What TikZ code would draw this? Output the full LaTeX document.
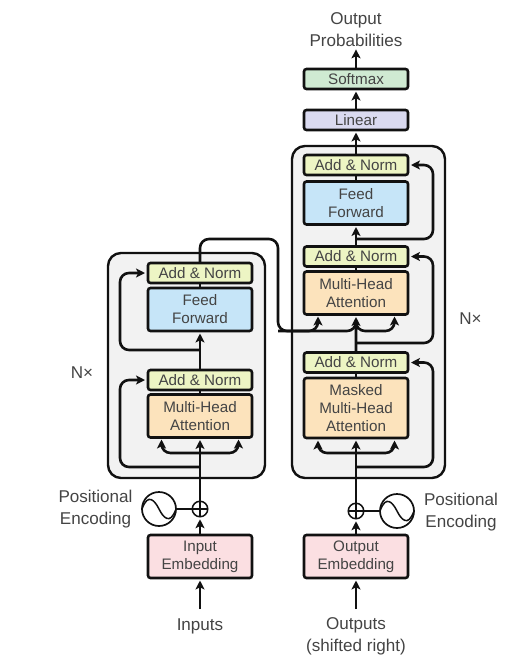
\documentclass[tikz,border=0pt]{standalone}
\usepackage{fontspec}
\setmainfont{Liberation Sans}
\usetikzlibrary{arrows.meta,calc}
\newcommand{\uu}{0.75pt}
\definecolor{ink}{HTML}{111111}
\definecolor{txt}{HTML}{444444}
\definecolor{grayblock}{HTML}{F2F2F2}
\definecolor{addnorm}{HTML}{EDF5C4}
\definecolor{feedf}{HTML}{C6E5F8}
\definecolor{attn}{HTML}{FCE3BC}
\definecolor{embed}{HTML}{FBDFE2}
\definecolor{softm}{HTML}{CFEAD2}
\definecolor{lin}{HTML}{DADAF0}
\tikzset{
  x=0.75pt,y=-0.75pt,
  lab/.style={font=\fontsize{11.4}{13.5}\selectfont,text=txt,align=center,inner sep=0pt},
  outer lab/.style={font=\fontsize{12.8}{16.5}\selectfont,text=txt,align=center,inner sep=0pt},
  block/.style={lab,draw=ink,line width=2.6*\uu,rounded corners=2.5*\uu,minimum width=104*\uu,outer sep=0pt},
  anbox/.style={block,fill=addnorm,minimum height=20*\uu},
  ffbox/.style={block,fill=feedf,minimum height=43*\uu},
  atbox/.style={block,fill=attn,minimum height=43*\uu},
  mabox/.style={block,fill=attn,minimum height=60*\uu},
  embox/.style={block,fill=embed,minimum height=43*\uu},
  smbox/.style={block,fill=softm,minimum height=20*\uu},
  lnbox/.style={block,fill=lin,minimum height=20*\uu},
  stack/.style={draw=ink,fill=grayblock,line width=2.4*\uu,rounded corners=13*\uu,outer sep=0pt},
  conn/.style={draw=ink,line width=2.6*\uu},
  tip/.style={-{Stealth[length=9*\uu,width=9*\uu,inset=2.2*\uu]}},
  arr/.style={conn,tip,shorten >=2.5*\uu},
  rnd/.style={rounded corners=9*\uu},
  plus/.style={circle,draw=ink,fill=white,line width=1.5*\uu,minimum size=15.5*\uu,inner sep=0pt,outer sep=0pt},
  wave/.style={circle,draw=ink,fill=white,line width=1.7*\uu,minimum size=34*\uu,inner sep=0pt,outer sep=0pt},
  thin ink/.style={draw=ink,line width=1.2*\uu},
}
\begin{document}
\begin{tikzpicture}
\useasboundingbox (0,0) rectangle (520,672);
% stacks
\node[stack,minimum width=157*\uu,minimum height=225*\uu] (lstack) at (186.5,365.5) {};
\node[stack,minimum width=153*\uu,minimum height=332*\uu] (rstack) at (368.5,312) {};
% encoder blocks
\node[anbox] (lan2) at (200,273) {Add \& Norm};
\node[ffbox] (lff) at (200,309.5) {Feed\\Forward};
\node[anbox] (lan1) at (200,380) {Add \& Norm};
\node[atbox] (lma) at (200,416) {Multi-Head\\Attention};
\node[embox] (lem) at (200,556.5) {Input\\Embedding};
% decoder blocks
\node[lnbox] (lin) at (356,120) {Linear};
\node[smbox] (soft) at (356,79) {Softmax};
\node[anbox] (ran3) at (356,165) {Add \& Norm};
\node[ffbox] (rff) at (356,203) {Feed\\Forward};
\node[anbox] (ran2) at (356,256.5) {Add \& Norm};
\node[atbox] (rma) at (356,293) {Multi-Head\\Attention};
\node[anbox] (ran1) at (356,362.5) {Add \& Norm};
\node[mabox] (rmm) at (356,408) {Masked\\Multi-Head\\Attention};
\node[embox] (rem) at (356,556.5) {Output\\Embedding};
% texts
\node[outer lab] (inp) at (200,626) {Inputs};
\node[outer lab] (outp) at (356,636.5) {Outputs\\(shifted right)};
\node[outer lab] (prob) at (356,29.5) {Output\\Probabilities};
\node[outer lab] (lpe) at (95.5,509) {Positional\\Encoding};
\node[outer lab] (rpe) at (461,512) {Positional\\Encoding};
\node[outer lab] (lnx) at (82,373) {N×};
\node[outer lab] (rnx) at (470.5,318.5) {N×};
% positional encoding symbols
\node[plus] (lplus) at (200,509) {};
\node[plus] (rplus) at (356,511) {};
\node[wave] (lsin) at (159,509) {};
\node[wave] (rsin) at (397,511) {};
\foreach \p in {lplus,rplus}{
  \draw[thin ink] (\p.north) -- (\p.south);
  \draw[thin ink] (\p.west) -- (\p.east);
}
\foreach \p in {lsin,rsin}{
  \draw[draw=ink,line width=1.5*\uu] (\p.west) .. controls ($(\p.center)+(-11,-17)$) and ($(\p.center)+(-4,-8)$) .. (\p.center)
     .. controls ($(\p.center)+(4,8)$) and ($(\p.center)+(11,17)$) .. (\p.east);
}
\draw[conn] (lsin) -- (lplus);
\draw[conn] (rplus) -- (rsin);
% named junctions
\coordinate (inpfoot) at (200,609);
\coordinate (outfoot) at (356,609);
\coordinate (lres1) at (200,467);
\coordinate (lres1x) at (120,467);
\coordinate (lbr) at (200,453);
\coordinate (lbrl) at (161.5,437);
\coordinate (lbrr) at (238.5,437);
\coordinate (lres2) at (200,350);
\coordinate (lres2x) at (120,350);
\coordinate (ltop) at (200,239);
\coordinate (lcrossx) at (278,239);
\coordinate (lcross) at (278,331);
\coordinate (rqk) at (318,314);
\coordinate (rqkb) at (318,331);
\coordinate (rv) at (394.5,314);
\coordinate (rbr) at (356,453);
\coordinate (rbrl) at (318,438);
\coordinate (rbrr) at (394.5,438);
\coordinate (rres1) at (356,467);
\coordinate (rresx) at (433,467);
\coordinate (rup) at (356,331);
\coordinate (rres2) at (356,343);
\coordinate (rres2x) at (433,343);
\coordinate (rres3) at (356,239);
\coordinate (rres3x) at (433,239);
% encoder connectors
\draw[arr] (inpfoot) -- (lem.south);
\draw[arr] (lem.north) -- (lplus.south);
\draw[arr] (lplus.north) -- (lma.south);
\draw[conn,rnd,tip,shorten >=3*\uu] (lres1) -- (lres1x) |- (lan1.west);
\draw[arr,rnd] (lbr) -| (lbrl);
\draw[arr,rnd] (lbr) -| (lbrr);
\draw[conn] (lma.north) -- (lan1.south);
\draw[arr] (lan1.north) -- (lff.south);
\draw[conn,rnd,tip,shorten >=3*\uu] (lres2) -- (lres2x) |- (lan2.west);
\draw[conn] (lff.north) -- (lan2.south);
\draw[arr,rnd] (lan2.north) -- (ltop) -- (lcrossx) -- (lcross) -- (rqkb) -- (rqk);
\draw[arr,rnd] (lcross) -- (rup) -- (rma.south);
% decoder connectors
\draw[arr] (outfoot) -- (rem.south);
\draw[arr] (rem.north) -- (rplus.south);
\draw[arr] (rplus.north) -- (rmm.south);
\draw[arr,rnd] (rbr) -| (rbrl);
\draw[arr,rnd] (rbr) -| (rbrr);
\draw[conn,rnd,tip,shorten >=3*\uu] (rres1) -- (rresx) |- (ran1.east);
\draw[conn] (rmm.north) -- (ran1.south);
\draw[arr,rnd] (ran1.north) |- (rup) -| (rv);
\draw[conn,rnd,tip,shorten >=3*\uu] (rres2) -- (rres2x) |- (ran2.east);
\draw[conn] (rma.north) -- (ran2.south);
\draw[arr] (ran2.north) -- (rff.south);
\draw[conn,rnd,tip,shorten >=3*\uu] (rres3) -- (rres3x) |- (ran3.east);
\draw[conn] (rff.north) -- (ran3.south);
\draw[arr] (ran3.north) -- (lin.south);
\draw[arr] (lin.north) -- (soft.south);
\draw[arr] (soft.north) -- (prob.south);
\end{tikzpicture}
\end{document}
